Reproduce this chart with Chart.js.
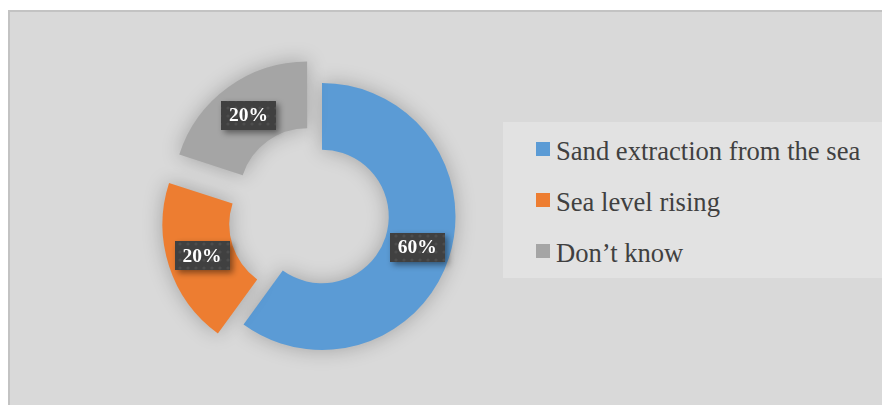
<!DOCTYPE html>
<html>
<head>
<meta charset="utf-8">
<script src="https://cdn.jsdelivr.net/npm/chart.js@4.4.1/dist/chart.umd.min.js"></script>
<style>
  html, body { margin: 0; padding: 0; background: #ffffff; width: 882px; height: 405px; overflow: hidden; }
  #frame {
    position: absolute; left: 8px; top: 10px; width: 900px; height: 420px;
    background: #d9d9d9; border-left: 2px solid #c3c3c3; border-top: 2px solid #c3c3c3;
  }
  #chart { position: absolute; left: 0; top: 0; }
  #legend {
    position: absolute; left: 503px; top: 122px; width: 400px; height: 156px;
    background: #e2e2e2;
  }
  .item {
    position: absolute; left: 33px; height: 26px; line-height: 26px;
    font-family: "Liberation Serif", "Times New Roman", serif; font-size: 26.6px; color: #404040;
    white-space: nowrap;
  }
  .item .box { position: absolute; left: 0; top: 4px; width: 14px; height: 14px; }
  .item .txt { position: absolute; left: 20px; top: 0; }
</style>
</head>
<body>
<div id="frame"></div>
<canvas id="chart" width="882" height="405"></canvas>
<div id="legend"></div>
<script>
  const categories = ["Sand extraction from the sea", "Sea level rising", "Don\u2019t know"];
  const shares = [60, 20, 20];
  const colors = ["#5b9bd5", "#ed7d31", "#a5a5a5"];
  const explode = [0, 104, 100];

  // legend rows
  const legendEl = document.getElementById("legend");
  const rowTops = [16, 67, 118];
  categories.forEach((name, i) => {
    const row = document.createElement("div");
    row.className = "item";
    row.style.top = rowTops[i] + "px";
    row.innerHTML = `<span class="box" style="background:${colors[i]}"></span><span class="txt">${name}</span>`;
    legendEl.appendChild(row);
  });

  // dotted fill for the value boxes
  function dotPattern(ctx) {
    const c = document.createElement("canvas");
    c.width = 8; c.height = 8;
    const p = c.getContext("2d");
    p.fillStyle = "#404040";
    p.fillRect(0, 0, 8, 8);
    p.fillStyle = "#4d4d4d";
    p.beginPath();
    p.arc(4, 4, 1.6, 0, Math.PI * 2);
    p.fill();
    return ctx.createPattern(c, "repeat");
  }

  // soft shadow under the ring
  const ringShadow = {
    id: "ringShadow",
    beforeDatasetsDraw(chart) {
      const ctx = chart.ctx;
      ctx.save();
      ctx.shadowColor = "rgba(0,0,0,0.25)";
      ctx.shadowBlur = 20;
    },
    afterDatasetsDraw(chart) {
      chart.ctx.restore();
    }
  };

  // percentage boxes in the middle of each slice
  const valueBoxes = {
    id: "valueBoxes",
    afterDatasetsDraw(chart) {
      const ctx = chart.ctx;
      const meta = chart.getDatasetMeta(0);
      const fill = dotPattern(ctx);
      ctx.save();
      ctx.font = "bold 19.5px 'Liberation Serif', 'Times New Roman', serif";
      ctx.textAlign = "center";
      ctx.textBaseline = "middle";
      meta.data.forEach((arc, i) => {
        const p = arc.getProps(["x", "y", "startAngle", "endAngle", "innerRadius", "outerRadius"]);
        const mid = (p.startAngle + p.endAngle) / 2;
        // arcs are pushed out by a quarter of their offset
        const r = (p.innerRadius + p.outerRadius) / 2 + (arc.options.offset || 0) / 4;
        const cx = p.x + Math.cos(mid) * r;
        const cy = p.y + Math.sin(mid) * r;
        const text = shares[i] + "%";
        const w = 55, h = 29;
        ctx.save();
        ctx.shadowColor = "rgba(0,0,0,0.45)";
        ctx.shadowBlur = 6;
        ctx.shadowOffsetX = 3;
        ctx.shadowOffsetY = 3;
        ctx.fillStyle = fill;
        ctx.fillRect(Math.round(cx - w / 2), Math.round(cy - h / 2), w, h);
        ctx.restore();
        ctx.fillStyle = "#ffffff";
        ctx.fillText(text, cx, cy + 1);
      });
      ctx.restore();
    }
  };

  new Chart(document.getElementById("chart").getContext("2d"), {
    type: "doughnut",
    data: {
      labels: categories,
      datasets: [{
        data: shares,
        backgroundColor: colors,
        borderWidth: 0,
        offset: explode
      }]
    },
    options: {
      responsive: false,
      animation: false,
      radius: 133.5,
      cutout: "50%",
      layout: { padding: { left: 0, right: 238, top: 28, bottom: 0 } },
      plugins: {
        legend: { display: false },
        tooltip: { enabled: false }
      }
    },
    plugins: [ringShadow, valueBoxes]
  });
</script>
</body>
</html>
